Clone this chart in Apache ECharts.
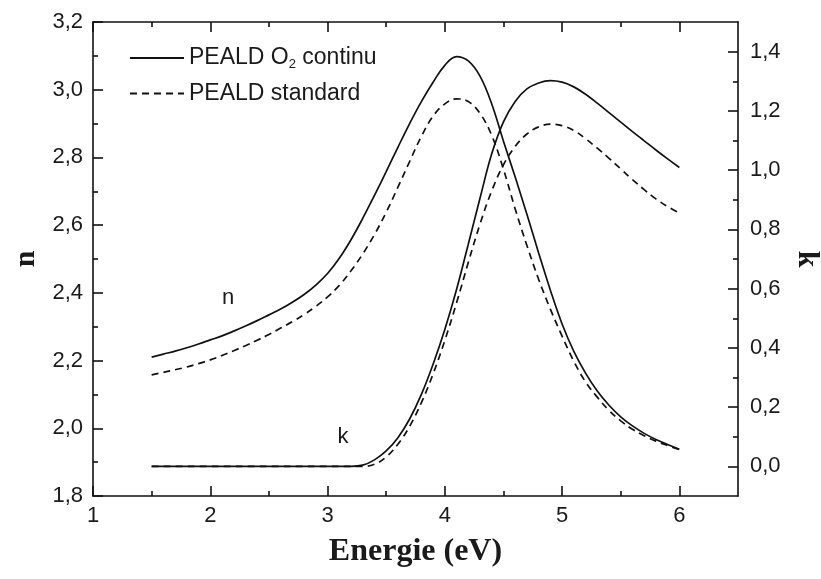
<!DOCTYPE html>
<html>
<head>
<meta charset="utf-8">
<script src="https://cdn.jsdelivr.net/npm/echarts@6/dist/echarts.min.js"></script>
<style>html,body{margin:0;padding:0;background:#fff}#c{width:821px;height:579px}</style>
</head>
<body>
<div id="c"></div>
<script>
const energy = [1.5,1.6,1.7,1.8,1.9,2.0,2.1,2.2,2.3,2.4,2.5,2.6,2.7,2.8,2.9,3.0,3.1,3.2,3.3,3.4,3.5,3.6,3.7,3.8,3.9,4.0,4.1,4.2,4.3,4.4,4.5,4.6,4.7,4.8,4.9,5.0,5.1,5.2,5.3,5.4,5.5,5.6,5.7,5.8,5.9,6.0];
const nContinu = [2.210,2.219,2.228,2.238,2.249,2.261,2.273,2.287,2.302,2.318,2.335,2.352,2.372,2.395,2.423,2.457,2.502,2.557,2.620,2.688,2.758,2.830,2.900,2.965,3.022,3.072,3.098,3.085,3.040,2.958,2.848,2.742,2.632,2.518,2.408,2.308,2.227,2.163,2.110,2.068,2.034,2.007,1.985,1.967,1.952,1.938];
const nStandard = [2.158,2.165,2.173,2.181,2.191,2.202,2.215,2.229,2.244,2.260,2.277,2.296,2.315,2.336,2.360,2.388,2.422,2.465,2.515,2.572,2.638,2.712,2.788,2.862,2.922,2.958,2.973,2.965,2.930,2.865,2.765,2.648,2.540,2.440,2.352,2.272,2.198,2.137,2.092,2.053,2.022,1.997,1.978,1.962,1.949,1.937];
const kContinu = [0,0,0,0,0,0,0,0,0,0,0,0,0,0,0,0,0,0,0.004,0.022,0.052,0.097,0.160,0.243,0.345,0.462,0.597,0.750,0.905,1.055,1.163,1.232,1.274,1.294,1.302,1.297,1.281,1.256,1.226,1.194,1.162,1.130,1.099,1.068,1.038,1.009];
const kStandard = [0,0,0,0,0,0,0,0,0,0,0,0,0,0,0,0,0,0,0,0.007,0.032,0.075,0.135,0.215,0.312,0.425,0.552,0.688,0.818,0.930,1.018,1.080,1.122,1.146,1.155,1.150,1.134,1.106,1.074,1.040,1.004,0.968,0.934,0.903,0.877,0.855];

const xMajor = [1,2,3,4,5,6];
const xMinor = [1.5,2.5,3.5,4.5,5.5];
const kMajor = [0,0.2,0.4,0.6,0.8,1.0,1.2,1.4];
const kMinor = [0.1,0.3,0.5,0.7,0.9,1.1,1.3];

const nameA = 'PEALD O2 continu';
const nameB = 'PEALD standard';

const pair = (xs, ys) => xs.map((x, i) => [x, ys[i]]);
const comma = v => v.toFixed(1).replace('.', ',');
const TXT = '#1a1a1a';
const LINE = {color: '#111', width: 1.6};
const SANS = 'Liberation Sans, Arial, sans-serif';
const SERIF = 'Liberation Serif, Times New Roman, serif';

function xAx(position, ticks, len, showLine, showLabel, extra) {
  return Object.assign({
    type: 'value', position: position, min: 1, max: 6.5,
    axisLine: {show: showLine, onZero: false, lineStyle: LINE},
    axisTick: {show: true, inside: true, length: len, customValues: ticks, lineStyle: LINE},
    axisLabel: {show: showLabel, customValues: xMajor, fontSize: 22, color: TXT, fontFamily: SANS, margin: 9},
    splitLine: {show: false}
  }, extra || {});
}

const chart = echarts.init(document.getElementById('c'), null, {renderer: 'canvas'});
const lineSolid = {color: '#111', width: 1.7, type: 'solid'};
const lineDash = {color: '#111', width: 1.7, type: [7, 5]};

chart.setOption({
  animation: false,
  backgroundColor: '#fff',
  grid: {left: 93, right: 83, top: 22, bottom: 83, containLabel: false, outerBoundsMode: 'none'},
  legend: {
    orient: 'vertical', left: 129, top: 46, padding: 0, itemWidth: 54, itemHeight: 2, itemGap: 11,
    itemStyle: {opacity: 0},
    data: [nameA, nameB],
    formatter: function (name) {
      return name === nameA ? '{a|PEALD O}{s|2}{a| continu}' : '{a|PEALD standard}';
    },
    textStyle: {
      color: TXT,
      rich: {
        a: {fontSize: 23, fontFamily: SANS, color: TXT, lineHeight: 26},
        s: {fontSize: 13, fontFamily: SANS, color: TXT, lineHeight: 26, verticalAlign: 'bottom', padding: [12, 0, 0, 0]}
      }
    }
  },
  xAxis: [
    xAx('bottom', xMajor, 10, true, true, {
      name: 'Energie (eV)', nameLocation: 'middle', nameGap: 40,
      nameTextStyle: {fontSize: 32, fontWeight: 'bold', fontFamily: SERIF, color: TXT}
    }),
    xAx('bottom', xMinor, 5, false, false),
    xAx('top', xMajor, 10, true, false),
    xAx('top', xMinor, 5, false, false)
  ],
  yAxis: [
    {
      type: 'value', position: 'left', min: 1.8, max: 3.2, interval: 0.2,
      axisLine: {show: true, onZero: false, lineStyle: LINE},
      axisTick: {show: true, inside: true, length: 10, lineStyle: LINE},
      minorTick: {show: true, splitNumber: 2, length: 5, lineStyle: LINE},
      axisLabel: {fontSize: 22, color: TXT, fontFamily: SANS, margin: 10, formatter: comma},
      splitLine: {show: false},
      name: 'n', nameLocation: 'middle', nameGap: 46,
      nameTextStyle: {fontSize: 30, fontWeight: 'bold', fontFamily: SERIF, color: TXT}
    },
    {
      type: 'value', position: 'right', min: -0.1, max: 1.5,
      axisLine: {show: true, onZero: false, lineStyle: LINE},
      axisTick: {show: true, inside: true, length: 10, customValues: kMajor, lineStyle: LINE},
      axisLabel: {customValues: kMajor, fontSize: 22, color: TXT, fontFamily: SANS, margin: 12, formatter: comma},
      splitLine: {show: false},
      name: 'k', nameLocation: 'middle', nameGap: 53, nameRotate: -90,
      nameTextStyle: {fontSize: 30, fontWeight: 'bold', fontFamily: SERIF, color: TXT}
    },
    {
      type: 'value', position: 'right', min: -0.1, max: 1.5,
      axisLine: {show: false, onZero: false},
      axisTick: {show: true, inside: true, length: 5, customValues: kMinor, lineStyle: LINE},
      axisLabel: {show: false},
      splitLine: {show: false}
    }
  ],
  graphic: [
    {type: 'text', x: 228, y: 298, style: {text: 'n', fontSize: 22, fontFamily: SANS, fill: TXT, align: 'center', verticalAlign: 'middle'}},
    {type: 'text', x: 343, y: 437, style: {text: 'k', fontSize: 22, fontFamily: SANS, fill: TXT, align: 'center', verticalAlign: 'middle'}}
  ],
  series: [
    {name: nameA, type: 'line', xAxisIndex: 0, yAxisIndex: 0, data: pair(energy, nContinu), symbol: 'none', smooth: 0.4, lineStyle: lineSolid, itemStyle: {color: '#111'}},
    {name: nameB, type: 'line', xAxisIndex: 0, yAxisIndex: 0, data: pair(energy, nStandard), symbol: 'none', smooth: 0.4, lineStyle: lineDash, itemStyle: {color: '#111'}},
    {name: nameA, type: 'line', xAxisIndex: 0, yAxisIndex: 1, data: pair(energy, kContinu), symbol: 'none', smooth: 0.4, lineStyle: lineSolid, itemStyle: {color: '#111'}},
    {name: nameB, type: 'line', xAxisIndex: 0, yAxisIndex: 1, data: pair(energy, kStandard), symbol: 'none', smooth: 0.4, lineStyle: lineDash, itemStyle: {color: '#111'}}
  ]
});
</script>
</body>
</html>
